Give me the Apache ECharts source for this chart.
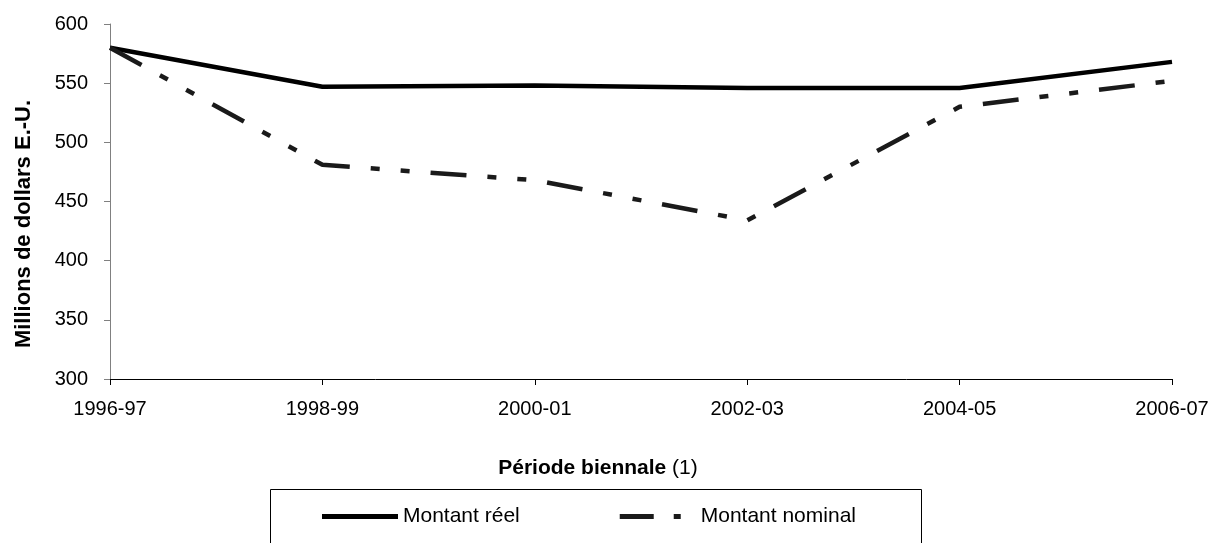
<!DOCTYPE html>
<html>
<head>
<meta charset="utf-8">
<script src="https://cdn.jsdelivr.net/npm/echarts@6/dist/echarts.min.js"></script>
<style>
html,body{margin:0;padding:0;background:#fff;}
#chart{width:1221px;height:543px;}
</style>
</head>
<body>
<div id="chart"></div>
<script>
const categories = ['1996-97','1998-99','2000-01','2002-03','2004-05','2006-07'];
const montantReel = [580, 547, 548, 546, 546, 568];
const montantNominal = [580, 481, 468, 434, 530, 552];
const seriesNames = ['Montant réel', 'Montant nominal'];
const yAxisTitle = 'Millions de dollars E.-U.';
const xAxisTitleBold = 'Période biennale';
const xAxisTitleNormal = ' (1)';

const FONT = '"Liberation Sans", Arial, sans-serif';
const chart = echarts.init(document.getElementById('chart'), null, {renderer:'canvas'});
chart.setOption({
  backgroundColor:'#fff',
  animation:false,
  grid:{left:110, right:49, top:24, bottom:164, containLabel:false},
  xAxis:{
    type:'category', data:categories, boundaryGap:false,
    axisLine:{lineStyle:{color:'#000', width:1}},
    axisTick:{show:true, length:6, inside:false, lineStyle:{color:'#000'}},
    axisLabel:{color:'#000', fontFamily:FONT, fontSize:20, margin:20}
  },
  yAxis:{
    type:'value', min:300, max:600, interval:50,
    axisLine:{show:true, lineStyle:{color:'#808080', width:1}},
    axisTick:{show:true, length:6, lineStyle:{color:'#808080'}},
    splitLine:{show:false},
    axisLabel:{color:'#000', fontFamily:FONT, fontSize:20, margin:22}
  },
  legend:{
    left:322, top:506, padding:0, itemGap:100, itemWidth:76, itemHeight:5,
    textStyle:{color:'#000', fontFamily:FONT, fontSize:21},
    data:[
      {name:seriesNames[0], icon:'path://M0,0H76V5H0Z', itemStyle:{color:'#000'}},
      {name:seriesNames[1], icon:'path://M0,0H34V5H0Z M54,0H61V5H54Z M75.99,2.49H76V2.5H75.99Z', itemStyle:{color:'#1a1a1a'}}
    ]
  },
  graphic:[
    {type:'rect', left:268, top:487, shape:{width:651, height:80}, style:{fill:'none', stroke:'#000', lineWidth:1}, z:-1},
    {type:'text', x:598, y:468, style:{
      text:'{b|'+xAxisTitleBold+'}{n|'+xAxisTitleNormal+'}',
      textAlign:'center', textVerticalAlign:'middle',
      rich:{b:{fontFamily:FONT, fontSize:21, fontWeight:'bold', fill:'#000'},
            n:{fontFamily:FONT, fontSize:21, fill:'#000'}}
    }},
    {type:'text', x:24, y:224, rotation:Math.PI/2, style:{
      text:yAxisTitle, fontFamily:FONT, fontSize:22, fontWeight:'bold', fill:'#000',
      textAlign:'center', textVerticalAlign:'middle'
    }}
  ],
  series:[
    {name:seriesNames[0], type:'line', data:montantReel, symbol:'none', showSymbol:false,
     lineStyle:{color:'#000', width:4.5, type:'solid'}, itemStyle:{color:'#000'}},
    {name:seriesNames[1], type:'line', data:montantNominal, symbol:'none', showSymbol:false,
     lineStyle:{color:'#1a1a1a', width:4.5, type:[36,21,9,21,9,21], cap:'butt'}, itemStyle:{color:'#1a1a1a'}}
  ]
});
</script>
</body>
</html>
